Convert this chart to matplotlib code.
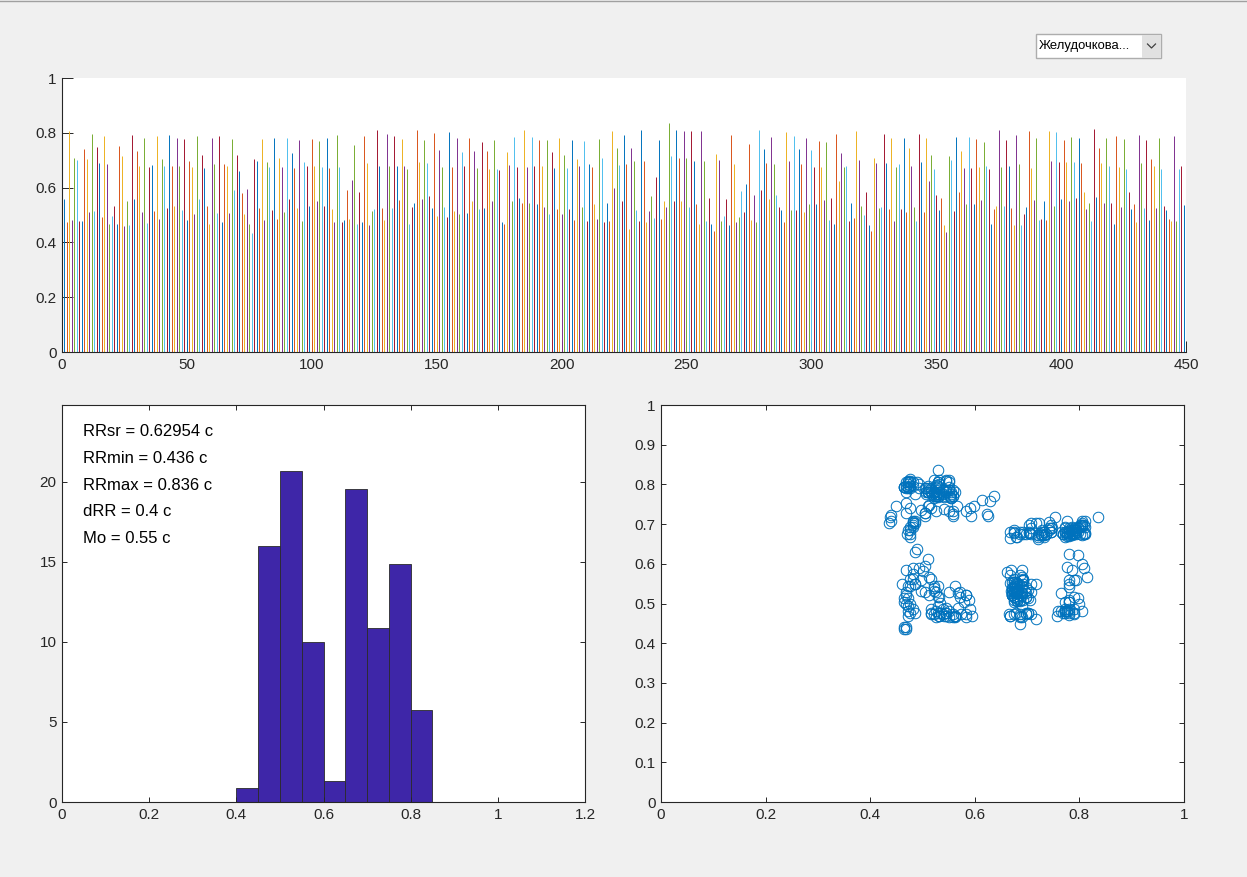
import numpy as np
import matplotlib
matplotlib.use("Agg")
import matplotlib.pyplot as plt
from matplotlib.patches import Rectangle
from matplotlib.lines import Line2D
from matplotlib.ticker import FuncFormatter

plt.rcParams['font.family'] = ['Liberation Sans', 'DejaVu Sans']

# ---- RR intervals (s) ----
rr_1 = [0.558, 0.473, 0.805, 0.481, 0.708, 0.702, 0.477, 0.477, 0.741, 0.706,
        0.510, 0.797, 0.513, 0.748, 0.690, 0.493, 0.790, 0.686, 0.468, 0.498,
        0.532, 0.468, 0.753, 0.717, 0.461, 0.550, 0.465, 0.793, 0.558, 0.732,
        0.680, 0.511, 0.781, 0.471, 0.674, 0.681, 0.513, 0.790, 0.485, 0.704,
        0.680, 0.526, 0.793, 0.680, 0.532, 0.781, 0.680, 0.519, 0.777, 0.481,
        0.698, 0.675, 0.505, 0.790, 0.558, 0.720, 0.672, 0.532, 0.468, 0.781,
        0.686, 0.507, 0.790, 0.473, 0.686, 0.680, 0.507, 0.777, 0.592, 0.720,
        0.662, 0.580, 0.504, 0.595, 0.468]
rr_2 = [0.436, 0.704, 0.698, 0.526, 0.777, 0.481, 0.692, 0.675, 0.517, 0.781,
        0.485, 0.708, 0.675, 0.510, 0.781, 0.558, 0.726, 0.672, 0.526, 0.772,
        0.477, 0.693, 0.680, 0.532, 0.777, 0.680, 0.552, 0.769, 0.675, 0.532,
        0.781, 0.672, 0.522, 0.473, 0.793, 0.675, 0.473, 0.481, 0.590, 0.485,
        0.629, 0.757, 0.468, 0.584, 0.473, 0.790, 0.690, 0.465, 0.513, 0.522,
        0.811, 0.678, 0.526, 0.481, 0.797, 0.680, 0.526, 0.790, 0.678, 0.554,
        0.777, 0.678, 0.668, 0.468, 0.529, 0.544, 0.811, 0.692, 0.558, 0.772,
        0.690, 0.568, 0.526, 0.799, 0.498]
rr_3 = [0.736, 0.675, 0.529, 0.493, 0.802, 0.675, 0.516, 0.781, 0.504, 0.729,
        0.680, 0.507, 0.781, 0.550, 0.732, 0.672, 0.522, 0.765, 0.526, 0.732,
        0.668, 0.552, 0.772, 0.668, 0.665, 0.473, 0.468, 0.729, 0.684, 0.550,
        0.785, 0.675, 0.562, 0.544, 0.809, 0.675, 0.544, 0.785, 0.678, 0.540,
        0.772, 0.680, 0.529, 0.772, 0.504, 0.729, 0.672, 0.522, 0.781, 0.504,
        0.720, 0.672, 0.522, 0.772, 0.481, 0.704, 0.678, 0.529, 0.769, 0.477,
        0.686, 0.674, 0.540, 0.485, 0.777, 0.708, 0.473, 0.544, 0.477, 0.805,
        0.599, 0.745, 0.681, 0.550, 0.793]
rr_4 = [0.686, 0.449, 0.745, 0.698, 0.517, 0.477, 0.809, 0.698, 0.473, 0.513,
        0.568, 0.489, 0.637, 0.772, 0.485, 0.550, 0.529, 0.836, 0.717, 0.550,
        0.811, 0.708, 0.550, 0.805, 0.708, 0.529, 0.805, 0.698, 0.541, 0.468,
        0.805, 0.698, 0.477, 0.562, 0.468, 0.440, 0.723, 0.702, 0.477, 0.498,
        0.558, 0.465, 0.793, 0.686, 0.473, 0.493, 0.589, 0.510, 0.613, 0.760,
        0.481, 0.574, 0.473, 0.809, 0.590, 0.741, 0.690, 0.558, 0.785, 0.686,
        0.572, 0.529, 0.517, 0.473, 0.802, 0.698, 0.517, 0.790, 0.517, 0.741,
        0.686, 0.510, 0.781, 0.541, 0.737]
rr_5 = [0.674, 0.541, 0.769, 0.675, 0.554, 0.765, 0.481, 0.562, 0.468, 0.797,
        0.623, 0.726, 0.675, 0.678, 0.477, 0.544, 0.489, 0.805, 0.702, 0.534,
        0.501, 0.583, 0.465, 0.440, 0.708, 0.690, 0.526, 0.529, 0.797, 0.690,
        0.522, 0.781, 0.477, 0.675, 0.686, 0.522, 0.781, 0.510, 0.745, 0.680,
        0.529, 0.477, 0.797, 0.693, 0.510, 0.781, 0.625, 0.720, 0.668, 0.572,
        0.517, 0.562, 0.465, 0.437, 0.717, 0.702, 0.513, 0.785, 0.584, 0.732,
        0.672, 0.540, 0.785, 0.672, 0.540, 0.777, 0.675, 0.554, 0.765, 0.680,
        0.668, 0.468, 0.522, 0.532, 0.811]
rr_6 = [0.675, 0.532, 0.772, 0.680, 0.526, 0.465, 0.793, 0.686, 0.465, 0.504,
        0.529, 0.805, 0.672, 0.554, 0.781, 0.481, 0.485, 0.550, 0.481, 0.805,
        0.696, 0.532, 0.802, 0.693, 0.558, 0.772, 0.692, 0.550, 0.785, 0.692,
        0.562, 0.781, 0.690, 0.584, 0.522, 0.544, 0.477, 0.814, 0.566, 0.745,
        0.690, 0.544, 0.781, 0.680, 0.544, 0.468, 0.790, 0.675, 0.529, 0.777,
        0.669, 0.584, 0.522, 0.540, 0.473, 0.793, 0.690, 0.526, 0.772, 0.481,
        0.706, 0.678, 0.526, 0.781, 0.669, 0.532, 0.517, 0.485, 0.477, 0.790,
        0.477, 0.668, 0.680, 0.535, 0.477]
rr = np.array(rr_1 + rr_2 + rr_3 + rr_4 + rr_5 + rr_6)
beat_idx = np.arange(1, len(rr) + 1)

# ---- histogram (counts per 0.05 s bin, shown as % of beats) ----
bin_edges_left = np.round(np.arange(0, 1.05, 0.05), 2)   # 21 bins 0..1.05
bin_counts = [0, 0, 0, 0, 0, 0, 0, 0, 4, 72, 93, 45, 6, 88, 49, 67, 26, 0, 0, 0, 0]
n_beats = 450
bin_pct = np.array(bin_counts) / n_beats * 100

stats_text = ["RRsr = 0.62954 c", "RRmin = 0.436 c", "RRmax = 0.836 c",
              "dRR = 0.4 c", "Mo = 0.55 c"]
dropdown_label = "Желудочкова..."

top_xticks = list(range(0, 451, 50))
top_yticks = [0, 0.2, 0.4, 0.6, 0.8, 1]
hist_xticks = [0, 0.2, 0.4, 0.6, 0.8, 1, 1.2]
hist_yticks = [0, 5, 10, 15, 20]
sc_ticks_x = [0, 0.2, 0.4, 0.6, 0.8, 1]
sc_ticks_y = [0, 0.1, 0.2, 0.3, 0.4, 0.5, 0.6, 0.7, 0.8, 0.9, 1]

# ---- styling ----
W, H = 1247, 877
fig = plt.figure(figsize=(W / 100, H / 100), dpi=100, facecolor='#F0F0F0')
mat_colors = ['#0072BD', '#D95319', '#EDB120', '#7E2F8E', '#77AC30', '#4DBEEE', '#A2142F']
axcol = '#262626'
fmt = FuncFormatter(lambda v, p: ('%g' % round(v, 4)))


def px_axes(l, t, r, b):
    return fig.add_axes([l / W, 1 - b / H, (r - l) / W, (b - t) / H])


def style(ax, ticklen, box=True):
    for s in ax.spines.values():
        s.set_color(axcol)
        s.set_linewidth(0.8)
    if not box:
        ax.spines['top'].set_visible(False)
        ax.spines['right'].set_visible(False)
    ax.tick_params(direction='in', length=ticklen, width=0.7, color=axcol,
                   labelcolor=axcol, labelsize=11, top=box, right=box, pad=4)
    ax.xaxis.set_major_formatter(fmt)
    ax.yaxis.set_major_formatter(fmt)


# top: RR series
ax1 = px_axes(62, 78, 1186, 352)
cols = [mat_colors[(i - 1) % 7] for i in beat_idx]
ax1.vlines(beat_idx, 0, rr, colors=cols, linewidth=0.7)
ax1.set_xlim(0, 450)
ax1.set_ylim(0, 1)
ax1.set_xticks(top_xticks)
ax1.set_yticks(top_yticks)
style(ax1, 8, box=False)

# bottom-left: histogram
ax2 = px_axes(62, 405, 585, 802)
ax2.bar(bin_edges_left, bin_pct, width=0.05, align='edge',
        color='#3E26A8', edgecolor='#2a2a2a', linewidth=0.6, clip_on=False)
ax2.set_xlim(0, 1.2)
ax2.set_ylim(0, 1.2 * bin_pct.max())
ax2.set_xticks(hist_xticks)
ax2.set_yticks(hist_yticks)
style(ax2, 3.8)
for k, s in enumerate(stats_text):
    ax2.text(0.040, 0.932 - k * 0.0668, s, transform=ax2.transAxes,
             fontsize=12, va='center', ha='left', color='black')

# bottom-right: Poincare plot
ax3 = px_axes(661, 405, 1184, 802)
ax3.plot(rr[:-1], rr[1:], 'o', mfc='none', mec='#0072BD', ms=7.6, mew=0.7)
ax3.set_xlim(0, 1)
ax3.set_ylim(0, 1)
ax3.set_xticks(sc_ticks_x)
ax3.set_yticks(sc_ticks_y)
style(ax3, 3.8)

# dropdown control
fig.patches.append(Rectangle((1036 / W, 1 - 58 / H), 125 / W, 24 / H,
                             transform=fig.transFigure, facecolor='white',
                             edgecolor='#ADADAD', linewidth=1))
fig.patches.append(Rectangle((1142 / W, 1 - 57.5 / H), 18.5 / W, 23 / H,
                             transform=fig.transFigure, facecolor='#E1E1E1',
                             edgecolor='none'))
fig.lines.append(Line2D([1147.5 / W, 1151.5 / W, 1155.5 / W],
                        [1 - 44 / H, 1 - 48 / H, 1 - 44 / H],
                        transform=fig.transFigure, color='#404040', linewidth=0.9))
fig.text(1039 / W, 1 - 46.5 / H, dropdown_label, fontsize=9.4, va='center',
         ha='left', color='black', family=['Liberation Sans', 'DejaVu Sans'])

# window top border
fig.lines.append(Line2D([0, 1], [1 - 0.5 / H, 1 - 0.5 / H], transform=fig.transFigure,
                        color='#A0A0A0', linewidth=1))

fig.savefig('out.png', dpi=100, facecolor=fig.get_facecolor())
